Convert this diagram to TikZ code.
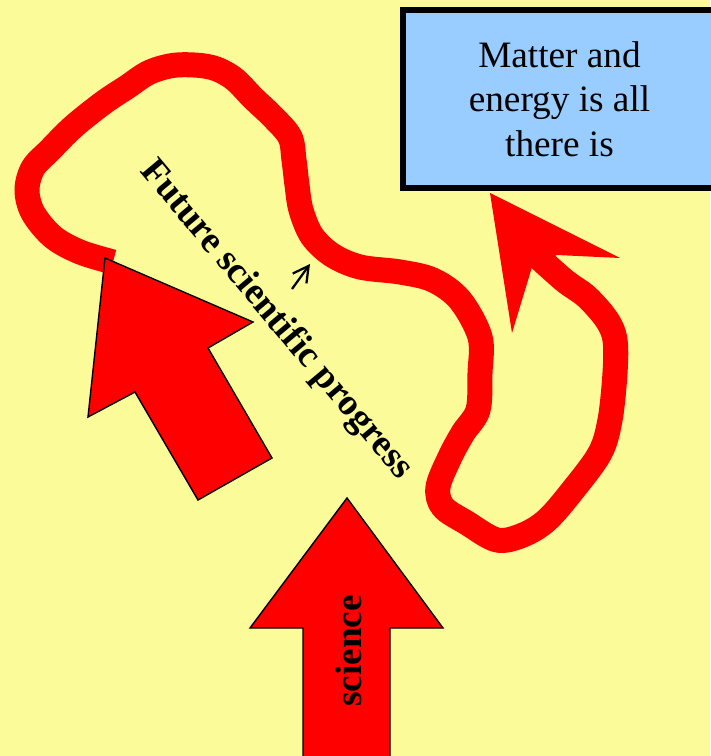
\documentclass[tikz,border=0pt]{standalone}
\usepackage{fontspec}
\setmainfont{Liberation Serif}
\usetikzlibrary{arrows.meta}
\definecolor{bgyellow}{RGB}{251,251,153}
\definecolor{boxblue}{RGB}{153,204,255}

\begin{document}
\begin{tikzpicture}[
    x=0.025cm, y=-0.025cm,
    blockarr/.style={fill=red, draw=black, line width=1pt, line join=miter},
    wiggle/.style={draw=red, line width=0.625cm, line join=round, line cap=butt},
    goalbox/.style={draw=black, fill=boxblue, line width=4.2pt, inner sep=0pt,
                    minimum width=7.825cm, minimum height=4.45cm, align=center,
                    font=\fontsize{26.5}{31.5}\selectfont},
    boldlbl/.style={font=\bfseries\fontsize{26.5}{32}\selectfont, inner sep=0pt},
    smallarr/.style={-{Straight Barb[length=11pt,width=12pt,line width=1.6pt]},
                     line width=1.6pt}
  ]

  %% ── Background ──
  \useasboundingbox (0,0) rectangle (710,756);
  \fill[bgyellow] (0,0) rectangle (710,756);

  %% ── Winding path of progress ──
  \draw[wiggle] plot[smooth, tension=0.55] coordinates {
      (113,262) (80,252) (53,237) (33,213) (27,190) (33,168) (50,150)
      (73,127) (103,103) (127,87) (150,72) (177,65) (210,67) (233,78)
      (253,98) (273,117) (290,137) (294,160) (297,185) (301,210)
      (312,236) (332,255) (360,267) (400,272) (433,280) (460,300)
      (480,337) (480,373) (478,410) (463,433) (450,457) (438,487)
      (443,507) (467,523) (497,540) (523,535) (547,520) (573,490)
      (600,453) (610,420) (615,373) (615,340) (607,320) (587,297)
      (565,281) (538,257)};
  \fill[red] (490,193) -- (620,258) -- (557,255) -- (532,267)
      -- (512,333) -- cycle;

  %% ── Goal box ──
  \node[goalbox] (goal) at (559.5,99) {Matter and\\energy is all\\there is};

  %% ── Tilted arrow ──
  \draw[blockarr] (105,258) -- (253,322) -- (208,348) -- (272,458)
      -- (198,500) -- (135,392) -- (88,417) -- cycle;

  %% ── Science arrow ──
  \draw[blockarr] (347,498) -- (443,628) -- (390,628) -- (390,762)
      -- (303,762) -- (303,628) -- (250,628) -- cycle;
  \node[boldlbl, rotate=90] (scilbl) at (349,651) {science};

  %% ── Label along the path ──
  \node[boldlbl, rotate=-50] (progress) at (276,320) {Future scientific progress};
  \coordinate (tail) at (292,289);
  \coordinate (head) at (310,264);
  \draw[smallarr] (tail) -- (head);

\end{tikzpicture}
\end{document}
